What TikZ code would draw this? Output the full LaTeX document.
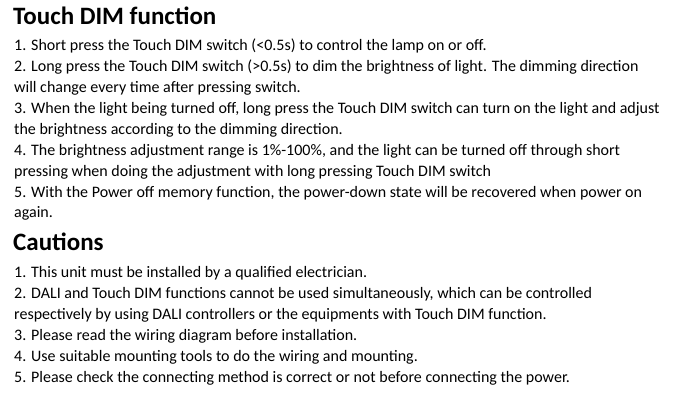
\documentclass[tikz,border=0pt]{standalone}
\usepackage{fontspec}
\setmainfont{Carlito}
\begin{document}
\begin{tikzpicture}[x=1pt,y=1pt,
  body/.style={anchor=west,inner sep=0pt,font=\fontsize{16}{18}\selectfont},
  head/.style={anchor=west,inner sep=0pt,font=\fontsize{25}{28}\selectfont\bfseries}]
\useasboundingbox (0,0) rectangle (683,400);
\node[head] (h1) at (13,384) {Touch DIM function};
\node[body] (a1) at (14,354) {1. Short press the Touch DIM switch (<0.5s) to control the lamp on or off.};
\node[body] (a2) at (14,333) {2. Long press the Touch DIM switch (>0.5s) to dim the brightness of light. The dimming direction};
\node[body] (a3) at (14,312) {will change every time after pressing switch.};
\node[body] (a4) at (14,291) {3. When the light being turned off, long press the Touch DIM switch can turn on the light and adjust};
\node[body] (a5) at (14,270) {the brightness according to the dimming direction.};
\node[body] (a6) at (14,249) {4. The brightness adjustment range is 1\%-100\%, and the light can be turned off through short};
\node[body] (a7) at (14,228) {pressing when doing the adjustment with long pressing Touch DIM switch};
\node[body] (a8) at (14,207) {5. With the Power off memory function, the power-down state will be recovered when power on};
\node[body] (a9) at (14,187) {again.};
\node[head] (h2) at (13,158) {Cautions};
\node[body] (b1) at (14,127) {1. This unit must be installed by a qualified electrician.};
\node[body] (b2) at (14,106) {2. DALI and Touch DIM functions cannot be used simultaneously, which can be controlled};
\node[body] (b3) at (14,85) {respectively by using DALI controllers or the equipments with Touch DIM function.};
\node[body] (b4) at (14,64) {3. Please read the wiring diagram before installation.};
\node[body] (b5) at (14,43) {4. Use suitable mounting tools to do the wiring and mounting.};
\node[body] (b6) at (14,22) {5. Please check the connecting method is correct or not before connecting the power.};
\end{tikzpicture}
\end{document}
